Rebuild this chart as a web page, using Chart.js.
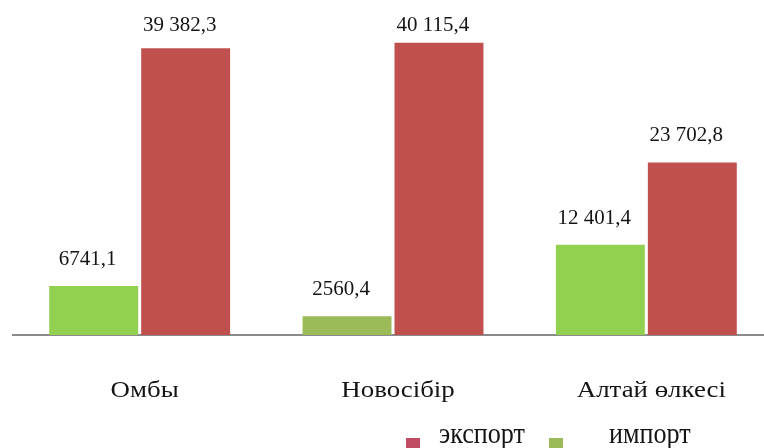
<!DOCTYPE html>
<html>
<head>
<meta charset="utf-8">
<script src="https://cdn.jsdelivr.net/npm/chart.js@4.4.1/dist/chart.umd.min.js"></script>
<style>
  html, body { margin: 0; padding: 0; background: #fff; overflow: hidden; }
  #wrap { width: 790px; height: 448px; }
</style>
</head>
<body>
<div id="wrap"><canvas id="tradeChart" width="790" height="448"></canvas></div>
<script>
const regions = ['Омбы', 'Новосібір', 'Алтай өлкесі'];
const importValues = [6741.1, 2560.4, 12401.4];
const exportValues = [39382.3, 40115.4, 23702.8];
const seriesNames = ['импорт', 'экспорт'];

const importColors = ['#92d050', '#9bbb59', '#92d050'];
const exportColor = '#c0504d';

// 4-digit numbers stay ungrouped, larger ones get a space separator
const formatValue = (v) => {
    let [int, frac] = v.toFixed(1).split('.');
    if (int.length > 4) int = int.replace(/\B(?=(\d{3})+(?!\d))/g, ' ');
    return int + ',' + frac;
};

const drawText = (ctx, text, x, y, size, sx, align) => {
    ctx.save();
    ctx.font = size + 'px "Liberation Serif", "Times New Roman", serif';
    ctx.fillStyle = '#141414';
    ctx.textAlign = align || 'center';
    ctx.textBaseline = 'alphabetic';
    ctx.translate(x, y);
    ctx.scale(sx, 1);
    ctx.fillText(text, 0, 0);
    ctx.restore();
};

const annotations = {
    id: 'annotations',
    afterDatasetsDraw(chart) {
        const ctx = chart.ctx;
        chart.data.datasets.forEach((ds, i) => {
            chart.getDatasetMeta(i).data.forEach((bar, j) => {
                const y = Math.max(bar.y - 21, 31);
                drawText(ctx, formatValue(ds.data[j]), bar.x - 6, y, 20, 1.05);
            });
        });

        const xScale = chart.scales.x;
        regions.forEach((name, j) => {
            drawText(ctx, name, xScale.getPixelForValue(j) + 5, 397, 24, 1.12);
        });

        // legend: экспорт first, then импорт
        const items = [
            { label: seriesNames[1], color: '#c04d64', box: 406, text: 439 },
            { label: seriesNames[0], color: '#9bbb59', box: 549, text: 609 }
        ];
        items.forEach(it => {
            ctx.fillStyle = it.color;
            ctx.fillRect(it.box, 438, 14, 14);
            drawText(ctx, it.label, it.text, 443, 29, 0.9, 'left');
        });
    }
};

const ctx = document.getElementById('tradeChart').getContext('2d');
const tradeChart = new Chart(ctx, {
    type: 'bar',
    data: {
        labels: regions,
        datasets: [
            {
                label: seriesNames[0],
                data: importValues,
                backgroundColor: importColors,
                categoryPercentage: 0.726,
                barPercentage: 0.967
            },
            {
                label: seriesNames[1],
                data: exportValues,
                backgroundColor: exportColor,
                categoryPercentage: 0.726,
                barPercentage: 0.967
            }
        ]
    },
    options: {
        responsive: false,
        animation: false,
        devicePixelRatio: 1,
        layout: { padding: { left: 13, right: 17, top: 0, bottom: 113 } },
        scales: {
            x: {
                grid: { display: false, drawTicks: false },
                ticks: { display: false },
                border: { display: true, color: '#8a8a8a', width: 2 }
            },
            y: {
                display: false,
                min: 0,
                max: 46000
            }
        },
        plugins: {
            legend: { display: false },
            tooltip: { enabled: false }
        }
    },
    plugins: [annotations]
});
</script>
</body>
</html>
